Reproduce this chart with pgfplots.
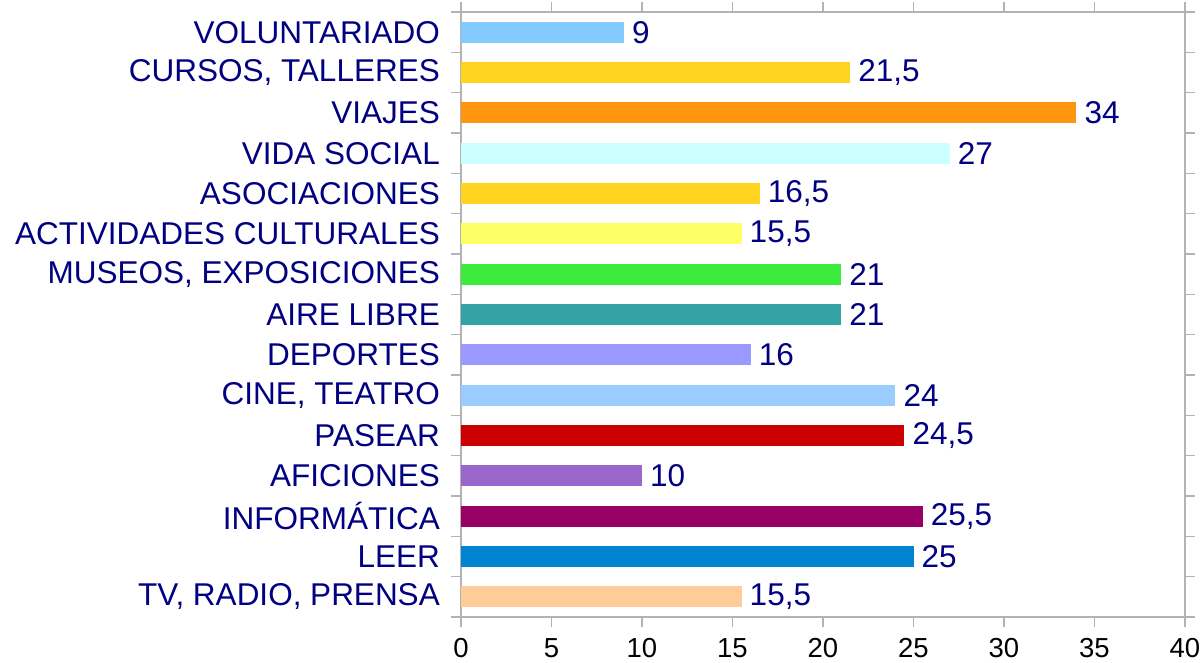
\documentclass[border=0pt]{standalone}
\usepackage{pgfplots}
\pgfplotsset{compat=1.18}
\usepackage{fontspec}
\setmainfont{Liberation Sans}
\definecolor{navy}{RGB}{0,0,128}
\definecolor{axgray}{RGB}{179,179,179}
\definecolor{cA}{HTML}{FFCC99}
\definecolor{cB}{HTML}{0084D1}
\definecolor{cC}{HTML}{990066}
\definecolor{cD}{HTML}{9966CC}
\definecolor{cE}{HTML}{CC0000}
\definecolor{cF}{HTML}{99CCFF}
\definecolor{cG}{HTML}{9999FF}
\definecolor{cH}{HTML}{33A3A3}
\definecolor{cI}{HTML}{3DEB3D}
\definecolor{cJ}{HTML}{FFFF66}
\definecolor{cK}{HTML}{FFD320}
\definecolor{cL}{HTML}{CCFFFF}
\definecolor{cM}{HTML}{FF950E}
\definecolor{cN}{HTML}{FFD320}
\definecolor{cO}{HTML}{83CAFF}
\begin{document}
\fontsize{31.5}{36}\selectfont
\begin{tikzpicture}
\path[use as bounding box] (-461pt,-46pt) rectangle (743pt,617pt);
\begin{axis}[
  at={(0,0)}, anchor=south west,
  scale only axis, width=724pt, height=605pt,
  xmin=0, xmax=40, ymin=-0.5, ymax=14.5,
  xbar, bar shift=0pt, bar width=21pt,
  axis line style={draw=axgray, line width=1.5pt},
  tick style={draw=axgray, line width=1.5pt},
  tick align=outside,
  major tick length=0pt, minor tick length=10pt,
  xtick={0,5,...,40},
  minor xtick={0,5,...,40},
  ytick={0,...,14},
  minor ytick={-0.5,0.5,...,14.5},
  yticklabels={{TV, RADIO, PRENSA}, LEER, INFORMÁTICA, AFICIONES, PASEAR, {CINE, TEATRO}, DEPORTES, AIRE LIBRE, {MUSEOS, EXPOSICIONES}, ACTIVIDADES CULTURALES, ASOCIACIONES, VIDA SOCIAL, VIAJES, {CURSOS, TALLERES}, VOLUNTARIADO},
  y tick label style={font=\fontsize{31.5}{36}\selectfont, text=navy, inner sep=0pt, anchor=east, xshift=-21pt},
  x tick label style={font=\fontsize{27.5}{32}\selectfont, text=black, inner sep=0pt, anchor=north, yshift=-21pt},
  /pgf/number format/assume math mode=true,
  nodes near coords,
  nodes near coords style={font=\fontsize{31.5}{36}\selectfont, text=navy, anchor=west, inner sep=0pt, xshift=8pt, /pgf/number format/.cd, use comma, fixed, precision=1, assume math mode=true},
  point meta=x,
  clip=false,
]
\addplot[fill=cA, draw=none] coordinates {(15.5,0)};
\addplot[fill=cB, draw=none] coordinates {(25,1)};
\addplot[fill=cC, draw=none] coordinates {(25.5,2)};
\addplot[fill=cD, draw=none] coordinates {(10,3)};
\addplot[fill=cE, draw=none] coordinates {(24.5,4)};
\addplot[fill=cF, draw=none] coordinates {(24,5)};
\addplot[fill=cG, draw=none] coordinates {(16,6)};
\addplot[fill=cH, draw=none] coordinates {(21,7)};
\addplot[fill=cI, draw=none] coordinates {(21,8)};
\addplot[fill=cJ, draw=none] coordinates {(15.5,9)};
\addplot[fill=cK, draw=none] coordinates {(16.5,10)};
\addplot[fill=cL, draw=none] coordinates {(27,11)};
\addplot[fill=cM, draw=none] coordinates {(34,12)};
\addplot[fill=cN, draw=none] coordinates {(21.5,13)};
\addplot[fill=cO, draw=none] coordinates {(9,14)};
\end{axis}
\end{tikzpicture}
\end{document}
